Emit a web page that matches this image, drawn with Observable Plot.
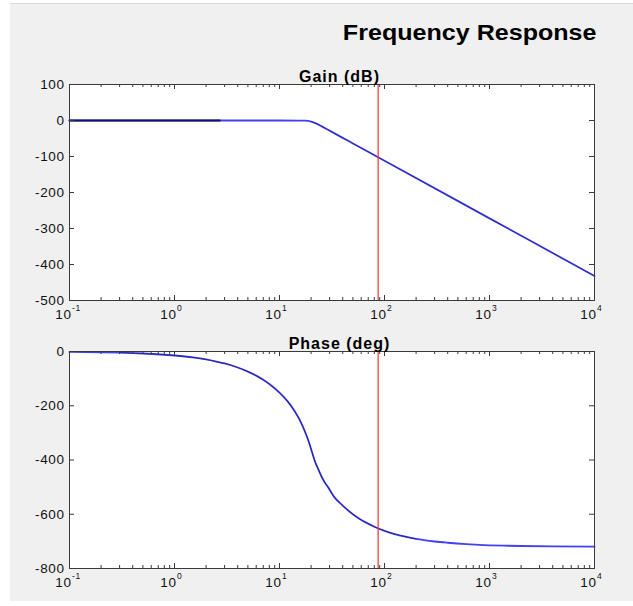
<!DOCTYPE html>
<html><head><meta charset="utf-8">
<script src="https://cdn.jsdelivr.net/npm/d3@7"></script>
<script src="https://cdn.jsdelivr.net/npm/@observablehq/plot@0.6"></script>
<style>
html,body{margin:0;padding:0;background:#fff;width:633px;height:606px;overflow:hidden;position:relative;}
#bg{position:absolute;left:10px;top:3px;width:623px;height:597px;background:#f0f0f0;border-top:1px solid #ddd6d6;}
#title{position:absolute;right:36px;top:20px;font:bold 22px "Liberation Sans",Arial,sans-serif;transform:scaleX(1.14);transform-origin:right center;white-space:nowrap;color:#000;}
.chart{position:absolute;left:0;}
</style></head><body>
<div id="bg"></div>
<div id="title">Frequency Response</div>
<div id="c1" class="chart" style="top:0px"></div>
<div id="c2" class="chart" style="top:330px"></div>
<script>
// ---- data ----
const gainFreq = [0.1, 1, 2.7, 10, 15, 17.5, 20, 22.5, 25, 30, 40, 50, 100, 1000, 10000];
const gainDb   = [0, 0, 0, 0, -0.1, -0.5, -3, -8.8, -15.6, -28.2, -48.2, -63.7, -111.8, -271.8, -431.8];
const phaseFreq = [0.1, 0.2, 0.3, 0.5, 1, 1.5, 2, 2.5, 3, 4, 5, 6, 7, 8, 10, 12, 14, 16, 18, 19, 20, 21, 22, 23, 25, 27, 29, 33, 40, 50, 57, 67, 80, 100, 130, 150, 200, 300, 400, 600, 800, 1500, 2000, 4000, 10000];
const phaseDeg  = [-1.5, -2.9, -4.4, -7.3, -14.7, -22, -29.4, -37, -44, -59, -74, -89, -104.5, -120, -152, -185, -221, -261, -308, -333, -360, -387, -410, -427, -459, -483, -500, -535, -568, -600, -615.5, -631, -646, -661, -674.8, -680.8, -691, -700.4, -705, -710.2, -713, -716.1, -717, -718.5, -719.5];
const markerFreq = 87;
const decadeTicks = [0.1, 1, 10, 100, 1000, 10000];
const decadeExponents = ["-1", "0", "1", "2", "3", "4"];
const minorMultiples = [2, 3, 4, 5, 6, 7, 8, 9];
const gainTicks = [100, 0, -100, -200, -300, -400, -500];
const phaseTicks = [0, -200, -400, -600, -800];
const titles = ["Gain (dB)", "Phase (deg)"];

const gainData = gainFreq.map((f, i) => ({f, v: gainDb[i]}));
const phaseData = phaseFreq.map((f, i) => ({f, v: phaseDeg[i]}));
const minorTicks = decadeTicks.slice(0, -1).flatMap(d => minorMultiples.map(k => +(k * d).toPrecision(3)));

const W = 633, ML = 69, MR = 39;
const innerW = W - ML - MR;
const axisColor = "#3a3a3a";
const FONT = "'Liberation Sans', Arial, sans-serif";

function panel({data, yDomain, yTicks, title, height, marginTop, marginBottom, darkRanges}) {
  const innerH = height - marginTop - marginBottom;
  const marks = [
    Plot.frame({fill: "white", stroke: null}),
    Plot.line(data, {x: "f", y: "v", stroke: "#4040f4", strokeWidth: 1.8, curve: "monotone-x"}),
    ...darkRanges.map(([a, b, w, o]) => Plot.line(data.filter(d => d.f >= a && d.f <= b), {x: "f", y: "v", stroke: "#16165e", strokeWidth: w, strokeOpacity: o, curve: "monotone-x"})),
    Plot.ruleX([markerFreq], {stroke: "#ff3030", strokeWidth: 1.2}),
    // inward ticks
    Plot.ruleX(decadeTicks, {x: d => d, insetTop: innerH - 5, stroke: axisColor}),
    Plot.ruleX(decadeTicks, {x: d => d, insetBottom: innerH - 5, stroke: axisColor}),
    Plot.ruleX(minorTicks, {x: d => d, insetTop: innerH - 3, stroke: axisColor}),
    Plot.ruleX(minorTicks, {x: d => d, insetBottom: innerH - 3, stroke: axisColor}),
    Plot.ruleY(yTicks, {y: d => d, insetRight: innerW - 5, stroke: axisColor}),
    Plot.ruleY(yTicks, {y: d => d, insetLeft: innerW - 5, stroke: axisColor}),
    Plot.frame({stroke: axisColor}),
    // x tick labels 10^n
    Plot.text(decadeTicks, {x: d => d, frameAnchor: "bottom", text: () => "10", textAnchor: "end", dx: 2, dy: 18, fontSize: 13.5, fill: "#111"}),
    Plot.text(decadeTicks, {x: d => d, frameAnchor: "bottom", text: (d, i) => decadeExponents[i], textAnchor: "start", dx: 2.5, dy: 10, fontSize: 8.5, fill: "#111"}),
    Plot.text([title], {text: d => d, frameAnchor: "top", dx: 7.5, dy: -13.5, fontWeight: "bold", fontSize: 16, fill: "#000"})
  ];
  const svg = Plot.plot({
    width: W, height, marginLeft: ML, marginRight: MR, marginTop, marginBottom,
    style: {background: "transparent", fontFamily: FONT, fontSize: "13.5px", color: "#111", overflow: "visible", letterSpacing: "0.6px"},
    x: {type: "log", domain: [0.1, 10000], axis: null},
    y: {domain: yDomain, ticks: yTicks, tickSize: 0, tickPadding: 5, label: null, tickFormat: d => String(d)},
    marks
  });
  svg.querySelectorAll("text").forEach(t => {
    if (t.textContent === title) t.style.letterSpacing = "1px";
  });
  return svg;
}

document.getElementById("c1").appendChild(panel({
  data: gainData, yDomain: [-500, 100], yTicks: gainTicks, title: titles[0],
  height: 340, marginTop: 84, marginBottom: 40,
  darkRanges: [[0.1, 2.7, 1.8, 1], [20, 10000, 0.8, 0.6]]
}));
document.getElementById("c2").appendChild(panel({
  data: phaseData, yDomain: [-800, 0], yTicks: phaseTicks, title: titles[1],
  height: 268, marginTop: 21, marginBottom: 30,
  darkRanges: [[0.3, 200, 0.9, 0.7]]
}));
</script>
</body></html>
